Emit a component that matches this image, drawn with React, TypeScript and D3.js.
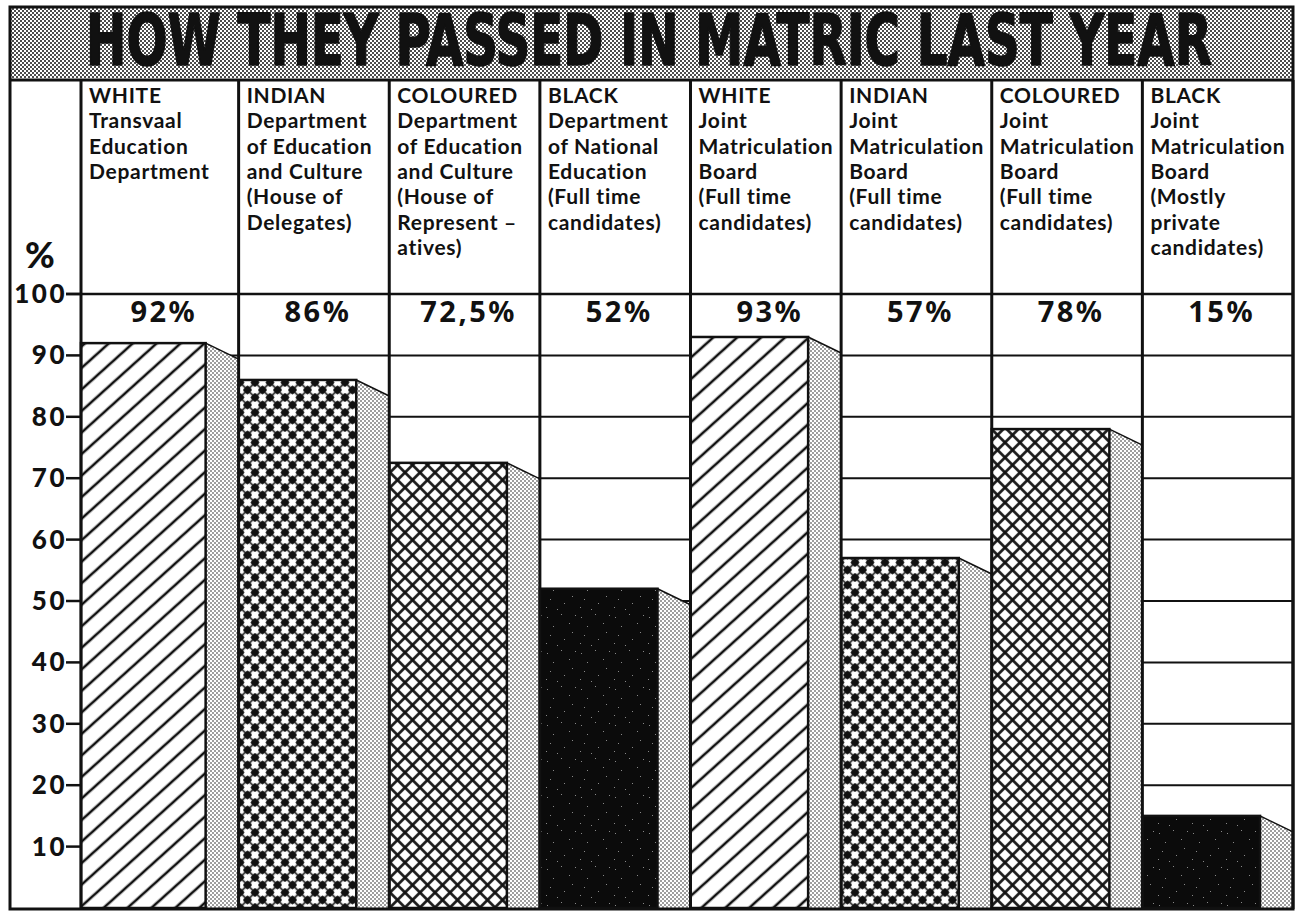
import React, { useLayoutEffect, useRef, useState } from "react";
import * as d3 from "d3";

const title = "HOW THEY PASSED IN MATRIC LAST YEAR";
const groups = ["WHITE", "INDIAN", "COLOURED", "BLACK", "WHITE", "INDIAN", "COLOURED", "BLACK"];
const descriptions: string[][] = [
  ["Transvaal", "Education", "Department"],
  ["Department", "of Education", "and Culture", "(House of", "Delegates)"],
  ["Department", "of Education", "and Culture", "(House of", "Represent –", "atives)"],
  ["Department", "of National", "Education", "(Full time", "candidates)"],
  ["Joint", "Matriculation", "Board", "(Full time", "candidates)"],
  ["Joint", "Matriculation", "Board", "(Full time", "candidates)"],
  ["Joint", "Matriculation", "Board", "(Full time", "candidates)"],
  ["Joint", "Matriculation", "Board", "(Mostly", "private", "candidates)"],
];
const values = [92, 86, 72.5, 52, 93, 57, 78, 15];
const valueLabels = ["92%", "86%", "72,5%", "52%", "93%", "57%", "78%", "15%"];
const yTicks = [10, 20, 30, 40, 50, 60, 70, 80, 90, 100];
const gridTicks = [10, 20, 30, 40, 50, 60, 70, 80, 90];

const patternFor: Record<string, string> = {
  WHITE: "url(#hatch)",
  INDIAN: "url(#dots)",
  COLOURED: "url(#cross)",
  BLACK: "url(#black)",
};

const speckles = [
  [3, 5], [17, 2], [9, 14], [25, 11], [6, 23], [20, 27], [13, 33], [28, 20], [2, 31], [31, 3],
];

export default function App() {
  const W = 1299, H = 914;
  const L = 10, R = 1293, T = 7, B = 909;
  const axisX = 81;
  const y = d3.scaleLinear().domain([0, 100]).range([908, 294]);
  const x = d3.scaleBand<number>().domain(d3.range(values.length)).range([88, R]);
  const bw = x.bandwidth();
  const colLeft = (i: number) => (i === 0 ? axisX : x(i)!);
  const colRight = (i: number) => x(i)! + bw;
  const side = 33, drop = 16;
  const font = "Lato, 'Noto Sans', sans-serif";
  const numFont = "'Noto Sans', 'DejaVu Sans', sans-serif";
  const P = 15 / Math.SQRT2;

  const titleRef = useRef<SVGTextElement>(null);
  const [sx, setSx] = useState(1);
  const titleWidth = 1126;
  useLayoutEffect(() => {
    if (titleRef.current) {
      const w = titleRef.current.getComputedTextLength();
      if (w > 0) setSx(titleWidth / w);
    }
  }, []);

  return (
    <div style={{ position: "absolute", left: 0, top: 0 }}>
      <svg width={W} height={H} style={{ display: "block", background: "#fff" }}>
        <defs>
          <pattern id="band" width={4} height={4} patternUnits="userSpaceOnUse">
            <rect width={4} height={4} fill="#fff" />
            <circle cx={1} cy={1} r={1.0} fill="#111" />
            <circle cx={3} cy={3} r={1.0} fill="#111" />
          </pattern>
          <pattern id="stipple" width={4} height={4} patternUnits="userSpaceOnUse">
            <rect width={4} height={4} fill="#fff" />
            <circle cx={1} cy={1} r={0.8} fill="#222" />
            <circle cx={3} cy={3} r={0.8} fill="#222" />
          </pattern>
          <pattern id="hatch" width={16} height={16} patternUnits="userSpaceOnUse" patternTransform="rotate(-42)">
            <rect width={16} height={16} fill="#fff" />
            <rect x={0} y={6.7} width={16} height={2.6} fill="#111" />
          </pattern>
          <pattern id="cross" width={P} height={P} patternUnits="userSpaceOnUse" patternTransform="rotate(45)">
            <rect width={P} height={P} fill="#fff" />
            <rect x={P / 2 - 1.3} y={0} width={2.6} height={P} fill="#111" />
            <rect x={0} y={P / 2 - 1.3} width={P} height={2.6} fill="#111" />
          </pattern>
          <pattern id="dots" width={P} height={P} patternUnits="userSpaceOnUse" patternTransform="rotate(45)">
            <rect width={P} height={P} fill="#fff" />
            <rect x={P / 2 - 0.8} y={0} width={1.6} height={P} fill="#111" />
            <rect x={0} y={P / 2 - 0.8} width={P} height={1.6} fill="#111" />
            <rect x={P / 2 - 3.5} y={P / 2 - 3.5} width={7} height={7} rx={1.5} fill="#111" />
          </pattern>
          <pattern id="black" width={34} height={36} patternUnits="userSpaceOnUse">
            <rect width={34} height={36} fill="#0b0b0b" />
            {speckles.map(([px, py], i) => (
              <rect key={i} x={px} y={py} width={1} height={1} fill="#888" />
            ))}
          </pattern>
        </defs>

        {/* title band */}
        <rect x={L} y={T} width={R - L} height={71} fill="url(#band)" />
        <text
          ref={titleRef}
          transform={`translate(86,65) scale(${sx},1.18)`}
          x={0}
          y={0}
          fontFamily="'Liberation Sans Narrow', 'DejaVu Sans Condensed', sans-serif"
          fontWeight={700}
          fontSize={60}
          fill="#111"
          stroke="#111"
          strokeWidth={1.3}
        >
          {title}
        </text>
        <line x1={L} x2={R} y1={80} y2={80} stroke="#111" strokeWidth={3} />

        {/* gridlines */}
        {values.map((_, i) => (
          <g key={"g" + i}>
            {gridTicks.map((t) => (
              <line key={t} x1={colLeft(i)} x2={colRight(i)} y1={y(t)} y2={y(t)} stroke="#111" strokeWidth={2} />
            ))}
          </g>
        ))}

        {/* bars */}
        {values.map((v, i) => {
          const x0 = colLeft(i);
          const x1 = colRight(i);
          const xf = x1 - side;
          const yt = y(v);
          const yb = y(0);
          return (
            <g key={"b" + i}>
              <polygon
                points={`${xf},${yt} ${x1},${yt + drop} ${x1},${yb} ${xf},${yb}`}
                fill="url(#stipple)"
              />
              <line x1={xf} y1={yt} x2={x1} y2={yt + drop} stroke="#111" strokeWidth={1.5} />
              <rect x={x0} y={yt} width={xf - x0} height={yb - yt} fill={patternFor[groups[i]]} stroke="#111" strokeWidth={2.5} />
            </g>
          );
        })}

        {/* column dividers */}
        {d3.range(values.length + 1).map((i) => {
          const xx = i < values.length ? colLeft(i) : R;
          return <line key={"d" + i} x1={xx} x2={xx} y1={80} y2={B} stroke="#111" strokeWidth={3} />;
        })}

        {/* 100 line */}
        <line x1={66} x2={R} y1={y(100)} y2={y(100)} stroke="#111" strokeWidth={2.5} />

        {/* y axis */}
        {yTicks.map((t) => (
          <g key={"t" + t}>
            <line x1={66} x2={axisX} y1={y(t)} y2={y(t)} stroke="#111" strokeWidth={2.5} />
            <text
              x={67}
              y={y(t) + 9}
              textAnchor="end"
              fontFamily={font}
              fontWeight={900}
              fontSize={26}
              letterSpacing={2.5}
              fill="#111"
            >
              {t}
            </text>
          </g>
        ))}
        <text x={40} y={268} textAnchor="middle" fontFamily={font} fontWeight={900} fontSize={36} fill="#111">
          %
        </text>

        {/* headers */}
        {groups.map((g, i) => (
          <text key={"h" + i} fontFamily={font} fontWeight={700} fontSize={21} letterSpacing={0.7} fill="#111">
            {[g, ...descriptions[i]].map((line, j) => (
              <tspan key={j} x={colLeft(i) + 8} y={103 + j * 25.3}>
                {line}
              </tspan>
            ))}
          </text>
        ))}

        {/* value labels */}
        {valueLabels.map((lab, i) => (
          <text
            key={"v" + i}
            x={(colLeft(i) + colRight(i)) / 2 + 4}
            y={322}
            textAnchor="middle"
            fontFamily={numFont}
            fontWeight={700}
            fontSize={29}
            letterSpacing={2.5}
            fill="#111"
          >
            {lab}
          </text>
        ))}

        {/* outer frame */}
        <rect x={L} y={T} width={R - L} height={B - T} fill="none" stroke="#111" strokeWidth={3} />
      </svg>
    </div>
  );
}
